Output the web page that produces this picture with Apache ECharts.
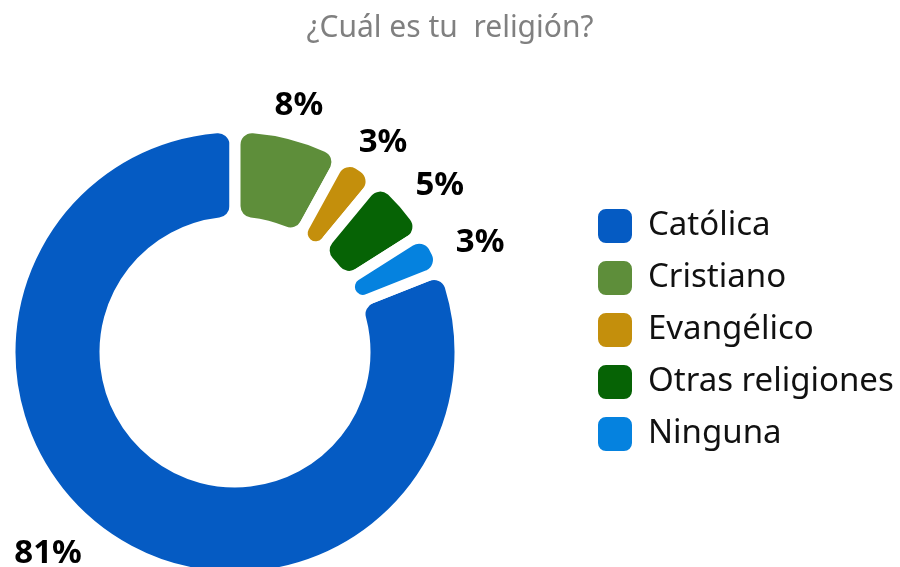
<!DOCTYPE html>
<html>
<head>
<meta charset="utf-8">
<script src="https://cdn.jsdelivr.net/npm/echarts@6/dist/echarts.min.js"></script>
<style>
  html, body { margin: 0; padding: 0; background: #fff; }
  #chart { width: 900px; height: 567px; }
</style>
</head>
<body>
<div id="chart"></div>
<script>
// data
const religions = ["Católica", "Cristiano", "Evangélico", "Otras religiones", "Ninguna"];
const shares = [81, 8, 3, 5, 3];
const colors = ["#055bc3", "#5e8e3a", "#c48f0c", "#066305", "#0582df"];

// small nudges for the percentage labels (dx, dy), one per slice
const labelNudge = [[-38, -18], [-2, 10], [-1, 10], [6, 9], [9, 11]];

const chartInstance = echarts.init(document.getElementById("chart"));

const pieData = religions.map((name, i) => ({ name, value: shares[i] }));

const option = {
  color: colors,
  textStyle: { fontFamily: "Noto Sans" },
  title: {
    text: "¿Cuál es tu  religión?",
    left: "center",
    top: 8,
    textStyle: { fontFamily: "Noto Sans", fontSize: 30, fontWeight: "normal", color: "#808080" }
  },
  legend: {
    orient: "vertical",
    left: 596,
    top: 207,
    padding: 0,
    data: religions,
    icon: "roundRect",
    itemWidth: 36,
    itemHeight: 36,
    itemGap: 14,
    selectedMode: false,
    textStyle: { fontFamily: "Noto Sans", fontSize: 33, lineHeight: 36, color: "#111", padding: [0, 0, 0, 10] }
  },
  series: [
    {
      type: "pie",
      center: [235, 352],
      radius: [130, 225],
      startAngle: 21.6,
      silent: true,
      data: pieData,
      itemStyle: { borderColor: "#fff", borderWidth: 11, borderRadius: 17 },
      label: { show: false },
      labelLine: { show: false }
    },
    {
      // transparent ring that only carries the percentage labels
      type: "pie",
      center: [235, 352],
      radius: [238, 286],
      startAngle: 21.6,
      silent: true,
      data: pieData,
      itemStyle: { color: "rgba(0,0,0,0)" },
      label: {
        show: true,
        position: "inside",
        formatter: "{c}%",
        fontFamily: "Noto Sans",
        fontSize: 33,
        fontWeight: "bold",
        color: "#000"
      },
      labelLine: { show: false },
      labelLayout: params => ({ dx: labelNudge[params.dataIndex][0], dy: labelNudge[params.dataIndex][1] })
    }
  ]
};

chartInstance.setOption(option);
</script>
</body>
</html>
